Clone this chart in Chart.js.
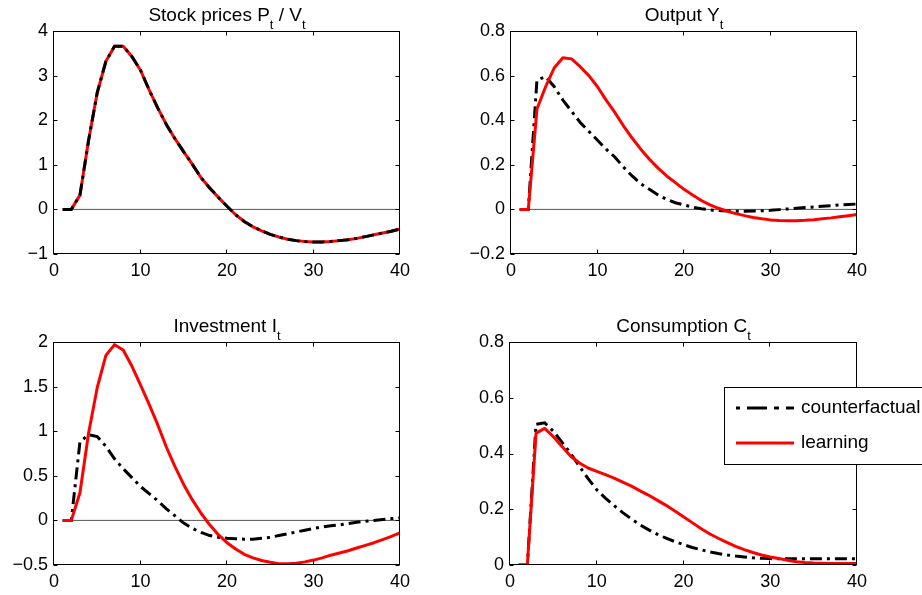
<!DOCTYPE html>
<html>
<head>
<meta charset="utf-8">
<title>Impulse responses</title>
<script src="https://cdn.jsdelivr.net/npm/chart.js@4.4.1/dist/chart.umd.min.js"></script>
<style>
  html, body { margin: 0; padding: 0; background: #fff; }
  #wrap { position: relative; width: 922px; height: 595px; overflow: hidden; }
  #wrap canvas { position: absolute; }
</style>
</head>
<body>
<div id="wrap">
  <canvas id="stockChart"></canvas>
  <canvas id="outputChart"></canvas>
  <canvas id="investChart"></canvas>
  <canvas id="consChart"></canvas>
</div>
<script>
// horizon (quarters) and axis ticks
const periods = [1, 2, 3, 4, 5, 6, 7, 8, 9, 10, 11, 12, 13, 14, 15, 16, 17, 18, 19, 20,
  21, 22, 23, 24, 25, 26, 27, 28, 29, 30, 31, 32, 33, 34, 35, 36, 37, 38, 39, 40];
const xTicks = [0, 10, 20, 30, 40];

const stockTicks = [-1, 0, 1, 2, 3, 4];
const outputTicks = [-0.2, 0, 0.2, 0.4, 0.6, 0.8];
const investTicks = [-0.5, 0, 0.5, 1, 1.5, 2];
const consTicks = [0, 0.2, 0.4, 0.6, 0.8];

const seriesNames = ["counterfactual", "learning"];

// Stock prices P/V (both runs coincide)
const stockCounterfactual = [0, 0, 0.32, 1.55, 2.62, 3.32, 3.66, 3.66, 3.43, 3.12,
  2.68, 2.27, 1.90, 1.58, 1.29, 1.01, 0.71, 0.48, 0.27, 0.07,
  -0.12, -0.27, -0.39, -0.48, -0.56, -0.62, -0.67, -0.70, -0.72, -0.73,
  -0.73, -0.72, -0.70, -0.68, -0.65, -0.61, -0.57, -0.53, -0.49, -0.44];
const stockLearning = [0, 0, 0.32, 1.55, 2.62, 3.32, 3.66, 3.66, 3.43, 3.12,
  2.68, 2.27, 1.90, 1.58, 1.29, 1.01, 0.71, 0.48, 0.27, 0.07,
  -0.12, -0.27, -0.39, -0.48, -0.56, -0.62, -0.67, -0.70, -0.72, -0.73,
  -0.73, -0.72, -0.70, -0.68, -0.65, -0.61, -0.57, -0.53, -0.49, -0.44];

// Output Y
const outputCounterfactual = [0, 0, 0.58, 0.595, 0.55, 0.49, 0.44, 0.39, 0.35, 0.31,
  0.27, 0.235, 0.19, 0.15, 0.115, 0.09, 0.065, 0.045, 0.03, 0.02,
  0.01, 0.003, -0.002, -0.005, -0.007, -0.008, -0.008, -0.007, -0.006, -0.004,
  -0.001, 0.002, 0.005, 0.008, 0.011, 0.014, 0.017, 0.02, 0.022, 0.024];
const outputLearning = [0, 0, 0.45, 0.55, 0.635, 0.68, 0.675, 0.64, 0.60, 0.55,
  0.49, 0.435, 0.375, 0.32, 0.27, 0.225, 0.185, 0.15, 0.12, 0.09,
  0.065, 0.04, 0.02, 0.005, -0.008, -0.019, -0.028, -0.036, -0.042, -0.047,
  -0.05, -0.051, -0.051, -0.049, -0.046, -0.042, -0.038, -0.033, -0.028, -0.023];

// Investment I
const investCounterfactual = [0, 0, 0.88, 0.96, 0.94, 0.83, 0.69, 0.58, 0.48, 0.38,
  0.30, 0.22, 0.13, 0.05, -0.03, -0.09, -0.135, -0.17, -0.19, -0.20,
  -0.205, -0.21, -0.21, -0.20, -0.19, -0.17, -0.15, -0.13, -0.11, -0.09,
  -0.075, -0.06, -0.05, -0.035, -0.02, -0.01, 0.0, 0.01, 0.02, 0.03];
const investLearning = [0, 0, 0.31, 0.98, 1.49, 1.85, 1.97, 1.91, 1.73, 1.52,
  1.30, 1.07, 0.82, 0.60, 0.40, 0.23, 0.08, -0.05, -0.16, -0.25,
  -0.32, -0.38, -0.42, -0.45, -0.47, -0.485, -0.487, -0.48, -0.465, -0.445,
  -0.42, -0.39, -0.365, -0.34, -0.31, -0.28, -0.25, -0.215, -0.18, -0.14];

// Consumption C
const consCounterfactual = [0, 0, 0.505, 0.51, 0.48, 0.44, 0.40, 0.354, 0.31, 0.27,
  0.24, 0.213, 0.188, 0.165, 0.144, 0.126, 0.11, 0.096, 0.084, 0.073,
  0.063, 0.055, 0.047, 0.041, 0.036, 0.032, 0.029, 0.026, 0.024, 0.023,
  0.022, 0.022, 0.022, 0.022, 0.022, 0.022, 0.022, 0.022, 0.022, 0.022];
const consLearning = [0, 0, 0.473, 0.49, 0.46, 0.425, 0.39, 0.366, 0.348, 0.336,
  0.324, 0.312, 0.297, 0.283, 0.266, 0.25, 0.232, 0.214, 0.194, 0.173,
  0.152, 0.131, 0.112, 0.096, 0.081, 0.067, 0.055, 0.045, 0.036, 0.029,
  0.023, 0.017, 0.012, 0.009, 0.007, 0.006, 0.005, 0.005, 0.005, 0.005];

// panel titles, [text, isSubscript]
const stockTitle = [["Stock prices P", false], ["t", true], [" / V", false], ["t", true]];
const outputTitle = [["Output Y", false], ["t", true]];
const investTitle = [["Investment I", false], ["t", true]];
const consTitle = [["Consumption C", false], ["t", true]];

const FONT = "'Liberation Sans', Arial, Helvetica, sans-serif";
const Y_AXIS_W = 45;
const X_AXIS_H = 25;
const DASH = [12, 5, 3, 5];

Chart.defaults.font.family = FONT;
Chart.defaults.font.size = 18;
Chart.defaults.color = "#000";

const toPoints = (values) => periods.map((p, i) => ({ x: p, y: values[i] }));
const fmt = (v) => String(Math.round(v * 10) / 10).replace("-", "\u2212");

// MATLAB-like box, inward ticks, title with subscripts, optional legend
const matlabFrame = {
  id: "matlabFrame",
  afterDraw(chart, args, opts) {
    const { ctx, chartArea: a } = chart;
    const xs = chart.scales.x;
    const ys = chart.scales.y;
    const L = Math.round(a.left) - 0.5;
    const R = Math.round(a.right) - 0.5;
    const T = Math.round(a.top) + 0.5;
    const B = Math.round(a.bottom) - 0.5;
    ctx.save();
    ctx.strokeStyle = "#000";
    ctx.lineWidth = 1;
    ctx.strokeRect(L, T, R - L, B - T);
    ctx.beginPath();
    ys.ticks.forEach((t) => {
      const py = Math.round(ys.getPixelForValue(t.value)) + 0.5;
      ctx.moveTo(L, py); ctx.lineTo(L + 4, py);
      ctx.moveTo(R, py); ctx.lineTo(R - 4, py);
    });
    xs.ticks.forEach((t) => {
      const px = Math.round(xs.getPixelForValue(t.value)) - 0.5;
      ctx.moveTo(px, B); ctx.lineTo(px, B - 4);
      ctx.moveTo(px, T); ctx.lineTo(px, T + 4);
    });
    ctx.stroke();

    // title
    const mainFont = "19px " + FONT;
    const subFont = "13px " + FONT;
    let total = 0;
    opts.title.forEach(([txt, sub]) => {
      ctx.font = sub ? subFont : mainFont;
      total += ctx.measureText(txt).width;
    });
    let tx = (a.left + a.right) / 2 - total / 2;
    const baseY = a.top - 10.5;
    ctx.fillStyle = "#000";
    ctx.textBaseline = "alphabetic";
    ctx.textAlign = "left";
    opts.title.forEach(([txt, sub]) => {
      ctx.font = sub ? subFont : mainFont;
      ctx.fillText(txt, tx, baseY + (sub ? 8.5 : 0));
      tx += ctx.measureText(txt).width;
    });

    // legend
    if (opts.legend) {
      const lg = opts.legend;
      ctx.fillStyle = "#fff";
      ctx.fillRect(lg.left, lg.top, lg.width, lg.height);
      ctx.strokeStyle = "#000";
      ctx.lineWidth = 1;
      ctx.strokeRect(lg.left + 0.5, lg.top + 0.5, lg.width, lg.height);
      const items = chart.data.datasets.filter((d) => d.label);
      items.forEach((d, i) => {
        const y = lg.top + lg.rows[i];
        ctx.beginPath();
        ctx.strokeStyle = d.borderColor;
        ctx.lineWidth = d.borderWidth;
        ctx.setLineDash(d.borderDash ? lg.dash : []);
        ctx.lineDashOffset = lg.dashOffset;
        ctx.moveTo(lg.left + 12, y);
        ctx.lineTo(lg.left + 70, y);
        ctx.stroke();
        ctx.setLineDash([]);
        ctx.fillStyle = "#000";
        ctx.font = "19px " + FONT;
        ctx.textBaseline = "middle";
        ctx.fillText(d.label, lg.left + 77, y);
      });
    }
    ctx.restore();
  }
};

function makePanel(id, pos, box, yTicks, counterfactual, learning, title, blackOnTop, legend) {
  const canvas = document.getElementById(id);
  canvas.width = pos.w;
  canvas.height = pos.h;
  canvas.style.left = pos.x + "px";
  canvas.style.top = pos.y + "px";

  return new Chart(canvas, {
    type: "line",
    data: {
      datasets: [
        {
          label: seriesNames[0],
          data: toPoints(counterfactual),
          borderColor: "#000",
          borderWidth: 3,
          borderDash: DASH,
          order: blackOnTop ? 0 : 1
        },
        {
          label: seriesNames[1],
          data: toPoints(learning),
          borderColor: "#ff0000",
          borderWidth: 3,
          borderJoinStyle: "round",
          order: blackOnTop ? 1 : 0
        },
        {
          label: "",
          data: [{ x: periods[0], y: 0 }, { x: periods[periods.length - 1], y: 0 }],
          borderColor: "#555",
          borderWidth: 1,
          order: 5
        }
      ]
    },
    options: {
      responsive: false,
      devicePixelRatio: 1,
      animation: false,
      events: [],
      elements: { point: { radius: 0 }, line: { tension: 0, fill: false } },
      layout: {
        padding: {
          left: box.l - pos.x - Y_AXIS_W,
          top: box.t - pos.y,
          right: pos.x + pos.w - box.r,
          bottom: pos.y + pos.h - box.b - X_AXIS_H
        }
      },
      plugins: {
        legend: { display: false },
        tooltip: { enabled: false },
        matlabFrame: { title: title, legend: legend }
      },
      scales: {
        x: {
          type: "linear",
          min: xTicks[0],
          max: xTicks[xTicks.length - 1],
          grid: { display: false, drawTicks: false },
          border: { display: false },
          afterBuildTicks: (s) => { s.ticks = xTicks.map((v) => ({ value: v })); },
          afterFit: (s) => { s.height = X_AXIS_H; },
          ticks: { padding: 6, maxRotation: 0, callback: (v) => fmt(v) }
        },
        y: {
          type: "linear",
          min: yTicks[0],
          max: yTicks[yTicks.length - 1],
          grid: { display: false, drawTicks: false },
          border: { display: false },
          afterBuildTicks: (s) => { s.ticks = yTicks.map((v) => ({ value: v })); },
          afterFit: (s) => { s.width = Y_AXIS_W; },
          ticks: { padding: 6, callback: (v) => fmt(v) }
        }
      }
    },
    plugins: [matlabFrame]
  });
}

makePanel("stockChart", { x: 0, y: 0, w: 461, h: 297 }, { l: 54, t: 31, r: 400, b: 254 },
  stockTicks, stockCounterfactual, stockLearning, stockTitle, true, null);
makePanel("outputChart", { x: 461, y: 0, w: 461, h: 297 }, { l: 511, t: 31, r: 857, b: 254 },
  outputTicks, outputCounterfactual, outputLearning, outputTitle, false, null);
makePanel("investChart", { x: 0, y: 297, w: 461, h: 298 }, { l: 54, t: 342, r: 400, b: 565 },
  investTicks, investCounterfactual, investLearning, investTitle, false, null);
makePanel("consChart", { x: 461, y: 297, w: 461, h: 298 }, { l: 510, t: 342, r: 857, b: 565 },
  consTicks, consCounterfactual, consLearning, consTitle, false,
  { left: 263, top: 90, width: 220, height: 77, rows: [21, 56], dash: [20, 7, 5, 7], dashOffset: 28 });
</script>
</body>
</html>
